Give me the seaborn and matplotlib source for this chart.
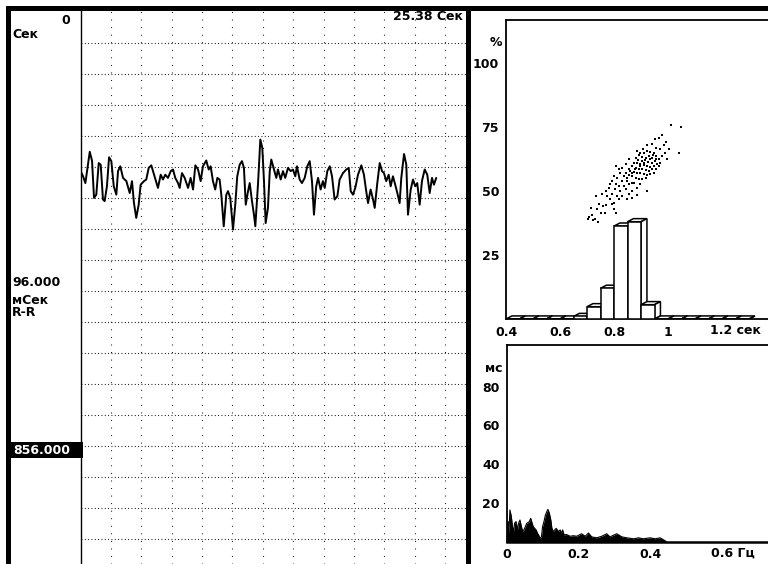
"""
RR-interval screen: rhythmogram, histogram + scatter, spectrum
"""
import numpy as np
import matplotlib
matplotlib.use("Agg")
import matplotlib.pyplot as plt
from matplotlib.patches import Rectangle, Polygon
import seaborn as sns

# ---- data ----
# rhythmogram: time (s) / RR interval (ms)
rr_time = [0.01, 0.16, 0.32, 0.61, 0.76, 0.89, 1.04, 1.20, 1.33, 1.48,
           1.59, 1.74, 1.88, 2.03, 2.19, 2.36, 2.47, 2.62, 2.80, 3.02,
           3.24, 3.39, 3.52, 3.67, 3.83, 3.96, 4.18, 4.33, 4.49, 4.66,
           4.84, 5.10, 5.28, 5.43, 5.58, 5.76, 5.94, 6.09, 6.24, 6.42,
           6.53, 6.68, 6.86, 7.08, 7.25, 7.41, 7.56, 7.74, 7.91, 8.06,
           8.28, 8.44, 8.57, 8.72, 8.87, 9.01, 9.16, 9.27, 9.43, 9.60,
           9.71, 9.86, 10.04, 10.19, 10.32, 10.48, 10.63, 10.76, 10.88, 11.03,
           11.14, 11.29, 11.42, 11.51, 11.69, 11.84, 11.97, 12.08, 12.19, 12.34,
           12.46, 12.56, 12.74, 12.89, 13.00, 13.18, 13.33, 13.48, 13.66, 13.84,
           13.99, 14.14, 14.25, 14.43, 14.58, 14.76, 14.93, 15.09, 15.24, 15.37,
           15.52, 15.64, 15.81, 15.96, 16.08, 16.25, 16.41, 16.56, 16.73, 16.91,
           17.06, 17.28, 17.50, 17.66, 17.79, 17.94, 18.09, 18.27, 18.49, 18.66,
           18.81, 18.93, 19.10, 19.26, 19.37, 19.54, 19.70, 19.85, 19.98, 20.13,
           20.29, 20.42, 20.57, 20.72, 20.86, 21.01, 21.12, 21.30, 21.45, 21.56,
           21.74, 21.89, 22.04, 22.17, 22.33, 22.48, 22.66, 22.83, 22.99, 23.14,
           23.27, 23.42]
rr_ms = [874, 859, 837, 934, 906, 791, 801, 899, 894, 786,
         781, 827, 917, 905, 827, 801, 874, 889, 853, 843,
         806, 843, 775, 729, 770, 832, 843, 848, 884, 892,
         863, 822, 863, 848, 863, 853, 874, 879, 853, 837,
         822, 868, 853, 822, 853, 817, 892, 879, 843, 889,
         907, 879, 889, 843, 817, 853, 848, 801, 703, 801,
         812, 791, 693, 770, 858, 894, 905, 884, 770, 812,
         837, 781, 739, 703, 837, 972, 946, 843, 713, 760,
         874, 910, 879, 853, 879, 848, 874, 853, 884, 874,
         879, 858, 889, 848, 837, 853, 889, 905, 843, 739,
         827, 853, 817, 843, 822, 874, 889, 858, 786, 796,
         848, 868, 879, 884, 812, 801, 822, 863, 892, 863,
         812, 775, 817, 786, 760, 837, 899, 874, 868, 843,
         863, 827, 858, 832, 806, 775, 853, 927, 894, 739,
         817, 848, 827, 837, 770, 843, 879, 863, 806, 853,
         832, 853]

# histogram of RR (s) in %
bin_left = [0.40, 0.45, 0.50, 0.55, 0.60, 0.65, 0.70, 0.75, 0.80,
            0.85, 0.90, 0.95, 1.00, 1.05, 1.10, 1.15, 1.20, 1.25]
hist_pct = [0, 0, 0, 0, 0, 1.0, 4.8, 12.0, 36.3,
            38.0, 5.6, 0, 0, 0, 0, 0, 0, 0]

# scatter cloud (RR s, %)
scatter_pts = [
    (1.010, 75.7), (1.047, 75.1), (0.979, 71.7), (0.966, 70.8), (0.951, 70.2),
    (0.993, 69.1), (0.985, 67.8), (1.003, 66.3), (1.040, 64.8), (0.972, 66.5),
    (0.956, 66.9), (0.939, 68.2), (0.923, 67.8), (0.907, 66.3), (0.988, 65.0),
    (0.976, 63.7), (0.966, 62.4), (0.997, 62.4),
    (0.886, 65.6), (0.898, 65.0), (0.911, 64.7), (0.923, 65.6), (0.935, 65.2),
    (0.948, 64.7), (0.954, 63.7), (0.942, 63.0), (0.929, 63.7), (0.917, 63.0),
    (0.905, 63.4), (0.892, 63.9), (0.880, 63.0), (0.890, 62.1), (0.902, 61.7),
    (0.914, 62.1), (0.927, 61.3), (0.939, 61.1), (0.951, 61.7), (0.960, 60.4),
    (0.948, 59.8), (0.935, 59.5), (0.923, 59.8), (0.911, 60.0), (0.898, 60.4),
    (0.886, 60.8), (0.874, 61.1), (0.868, 59.8), (0.880, 59.1), (0.892, 58.7),
    (0.905, 58.5), (0.917, 58.2), (0.929, 57.8), (0.942, 58.5), (0.954, 58.7),
    (0.966, 59.8), (0.898, 57.2), (0.886, 56.9), (0.874, 57.4), (0.861, 57.8),
    (0.855, 58.7), (0.911, 56.5), (0.923, 56.1), (0.935, 56.5), (0.868, 55.9),
    (0.880, 55.2), (0.892, 54.8), (0.855, 56.1), (0.843, 56.9), (0.849, 55.2),
    (0.905, 54.6), (0.917, 55.2), (0.948, 57.2), (0.932, 62.4), (0.912, 61.1),
    (0.895, 59.8), (0.877, 58.5), (0.865, 56.9), (0.956, 62.6), (0.944, 63.9),
    (0.971, 61.1),
    (0.855, 62.4), (0.843, 60.4), (0.830, 59.1), (0.818, 58.5), (0.806, 59.8),
    (0.824, 57.2), (0.837, 55.9), (0.849, 53.9), (0.830, 53.9), (0.812, 55.2),
    (0.800, 55.9), (0.793, 53.9), (0.787, 52.6), (0.806, 52.6), (0.818, 52.0),
    (0.837, 52.0), (0.855, 52.6), (0.868, 53.3), (0.843, 50.7), (0.824, 50.0),
    (0.803, 50.7), (0.781, 51.3), (0.769, 50.0), (0.775, 48.1), (0.793, 48.7),
    (0.812, 48.1), (0.830, 48.1), (0.849, 46.7), (0.868, 47.4), (0.886, 48.3),
    (0.868, 50.0), (0.886, 51.3), (0.898, 52.6), (0.923, 50.0), (0.874, 53.3),
    (0.855, 48.7), (0.756, 48.7), (0.787, 46.7), (0.818, 46.7), (0.800, 45.4),
    (0.732, 48.1), (0.744, 44.8), (0.759, 44.2), (0.771, 44.4), (0.793, 44.8),
    (0.800, 42.8), (0.808, 41.5), (0.719, 40.6), (0.707, 40.0), (0.729, 39.2),
    (0.750, 41.5), (0.766, 41.3), (0.738, 42.8), (0.713, 43.5), (0.705, 39.0),
    (0.740, 37.9), (0.722, 38.8),
]

# spectrum: frequency (Hz) / amplitude (ms)
spec_hz = [0.000, 0.004, 0.006, 0.009, 0.013, 0.016, 0.019, 0.022, 0.026, 0.030,
           0.033, 0.037, 0.041, 0.045, 0.048, 0.052, 0.056, 0.059, 0.063, 0.067,
           0.071, 0.074, 0.078, 0.082, 0.086, 0.089, 0.093, 0.097, 0.100, 0.104,
           0.108, 0.112, 0.115, 0.119, 0.123, 0.126, 0.130, 0.134, 0.138, 0.141,
           0.145, 0.149, 0.152, 0.156, 0.160, 0.167, 0.177, 0.186, 0.195, 0.209,
           0.219, 0.228, 0.237, 0.251, 0.265, 0.279, 0.288, 0.307, 0.321, 0.335,
           0.354, 0.368, 0.381, 0.400, 0.414, 0.428, 0.437, 0.445]
spec_ms = [5.1, 10.3, 4.2, 16.3, 12.8, 7.7, 5.1, 9.4, 10.3, 6.0,
           9.4, 11.1, 7.7, 5.1, 6.0, 7.7, 9.4, 9.7, 10.3, 12.0,
           9.4, 7.7, 6.8, 6.0, 4.2, 3.4, 1.6, 2.5, 7.7, 10.3,
           13.7, 15.5, 16.6, 14.6, 11.1, 6.8, 5.1, 6.0, 6.8, 6.0,
           5.1, 6.0, 4.2, 6.0, 3.4, 3.6, 2.7, 3.0, 2.7, 4.0,
           2.7, 4.4, 2.4, 1.9, 2.7, 4.0, 2.4, 4.0, 2.4, 1.9,
           1.4, 1.9, 1.4, 1.9, 1.4, 1.9, 0.9, 0.0]

# ---- layout helpers (screen pixels) ----
W, H = 768, 564

sns.set_style("white")
plt.rcParams['font.family'] = ['DejaVu Sans']
plt.rcParams['font.weight'] = 'bold'
plt.rcParams['font.size'] = 9
plt.rcParams['text.color'] = 'black'
plt.rcParams['axes.labelcolor'] = 'black'
plt.rcParams['axes.edgecolor'] = 'black'
plt.rcParams['xtick.color'] = 'black'
plt.rcParams['ytick.color'] = 'black'

fig = plt.figure(figsize=(W / 100, H / 100), dpi=100)
fig.patch.set_facecolor('white')


def box(l, t, r, b):
    return [l / W, 1 - b / H, (r - l) / W, (b - t) / H]


def block(l, t, r, b, color='black', z=10):
    fig.add_artist(Rectangle((l / W, 1 - b / H), (r - l) / W, (b - t) / H,
                             transform=fig.transFigure, facecolor=color,
                             edgecolor='none', zorder=z))


def label(x, y, s, ha='left', **kw):
    fig.text(x / W, 1 - y / H, s, ha=ha, va='center', color='black', **kw)


# ---- left panel: rhythmogram ----
ax = fig.add_axes(box(80.5, 10.5, 466, 564))
sns.lineplot(x=rr_time, y=rr_ms, estimator=None, color='black', lw=1.4, ax=ax)
ax.set_xlim(0, 25.38)
ax.set_ylim(-344, 1372)
ax.set_xticks(np.arange(2, 25, 2))
ax.set_yticks(np.arange(791 - 96 * 11, 1272, 96))
ax.tick_params(length=0, labelleft=False, labelbottom=False)
ax.grid(axis='x', color='black', lw=0.8, ls=(0, (0.8, 6)))
ax.grid(axis='y', color='black', lw=0.8, ls=(0, (0.8, 2.2)))
ax.set_xlabel('')
ax.set_ylabel('')
for s in ['top', 'right', 'bottom']:
    ax.spines[s].set_visible(False)
ax.spines['left'].set_linewidth(1.0)

label(70, 20, '0', ha='right')
label(12, 35, 'Сек')
label(463, 17, '25.38 Сек', ha='right')
label(12, 283, '96.000')
label(12, 300, 'мСек')
label(12, 312, 'R-R')
block(11, 442, 83, 458, z=11)
fig.text(13 / W, 1 - 450 / H, '856.000', ha='left', va='center',
         color='white', zorder=12)

# ---- right top: histogram + scatter ----
axh = fig.add_axes(box(506, 20, 770, 319))
bw = 0.05
edges = bin_left + [bin_left[-1] + bw]
centers = [b + bw / 2 for b in bin_left]
sns.histplot(x=centers, weights=hist_pct, bins=edges, color='white',
             edgecolor='black', linewidth=1.1, alpha=1, ax=axh, zorder=3)
dx, dy = 0.022, 1.2
for x0, h in zip(bin_left, hist_pct):
    axh.add_patch(Polygon([(x0, h), (x0 + dx, h + dy), (x0 + bw + dx, h + dy), (x0 + bw, h)],
                          closed=True, facecolor='white', edgecolor='black', lw=1.1, zorder=2))
    axh.add_patch(Polygon([(x0 + bw, h), (x0 + bw + dx, h + dy), (x0 + bw + dx, dy), (x0 + bw, 0)],
                          closed=True, facecolor='white', edgecolor='black', lw=1.1, zorder=2))

sc_rr = [p[0] for p in scatter_pts]
sc_pct = [p[1] for p in scatter_pts]
sns.scatterplot(x=sc_rr, y=sc_pct, marker='s', s=1.8, color='black',
                linewidth=0, ax=axh, zorder=5)

axh.set_xlim(0.4, 0.4 + 264 / 270)
axh.set_ylim(0, 299 / 2.56)
axh.set_xticks([0.4, 0.6, 0.8, 1.0], ['0.4', '0.6', '0.8', '1'])
axh.set_yticks([25, 50, 75, 100])
axh.tick_params(axis='x', length=0, pad=5)
axh.tick_params(axis='y', length=3, width=1, pad=2, direction='out')
axh.set_xlabel('')
axh.set_ylabel('')
axh.spines['right'].set_visible(False)
for s in ['top', 'left', 'bottom']:
    axh.spines[s].set_linewidth(1.3)
axh.annotate('1.2 сек', xy=(1.2, 0), xycoords=('data', 'axes fraction'),
             xytext=(-12, -5), textcoords='offset pixels', ha='left', va='top',
             color='black')
label(502, 42, '%', ha='right')

# ---- right bottom: spectrum ----
axs = fig.add_axes(box(506.7, 345, 770, 541.5))
axs.fill_between(spec_hz, spec_ms, color='black', lw=0)
sns.lineplot(x=spec_hz, y=spec_ms, estimator=None, color='black', lw=0.8, ax=axs)
axs.set_xlim(0, 263.3 / 358.5)
axs.set_ylim(0, 196.5 / 1.935)
axs.set_xticks([0, 0.2, 0.4], ['0', '0.2', '0.4'])
axs.set_xticks([0.1, 0.3, 0.5, 0.6, 0.7], minor=True)
axs.set_yticks([20, 40, 60, 80])
axs.tick_params(axis='x', which='both', length=3, width=1, direction='in', pad=5)
axs.tick_params(axis='y', length=3, width=1, pad=2, direction='out')
axs.set_xlabel('')
axs.set_ylabel('')
axs.spines['right'].set_visible(False)
for s in ['top', 'left']:
    axs.spines[s].set_linewidth(1.3)
axs.spines['bottom'].set_linewidth(1.8)
axs.annotate('0.6 Гц', xy=(0.6, 0), xycoords=('data', 'axes fraction'),
             xytext=(-11, -5), textcoords='offset pixels', ha='left', va='top',
             color='black')
label(502, 368, 'мс', ha='right')

# ---- screen frame ----
block(6, 6.5, 768, 10.5)
block(6, 6.5, 10.5, 564)
block(466, 6.5, 470.5, 564)

fig.savefig('out.png', dpi=100, facecolor='white')
